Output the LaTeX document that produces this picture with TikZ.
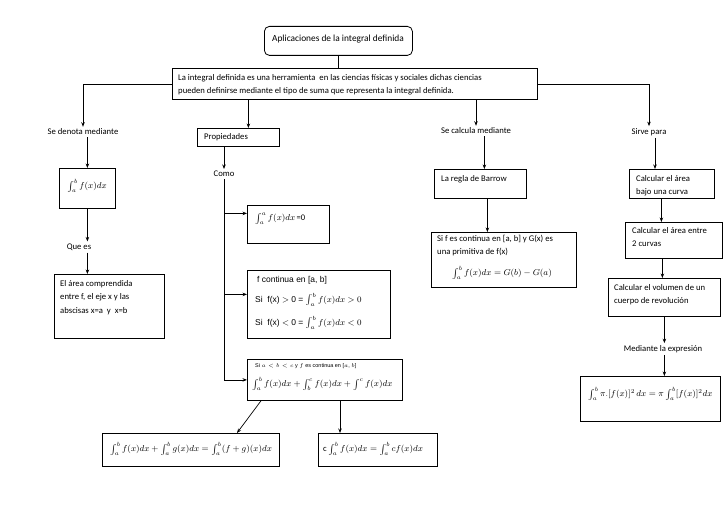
\RequirePackage{fix-cm}
\documentclass[tikz,border=0pt]{standalone}
\usepackage{fontspec}
\setmainfont{Carlito}
\newfontfamily\arialf{Liberation Sans}
\usetikzlibrary{arrows.meta}
\begin{document}
\begin{tikzpicture}[x=1bp,y=-1bp,
  box/.style={draw,line width=0.8pt,inner sep=0pt,anchor=north west},
  txt/.style={inner sep=0pt,font=\fontsize{8.7}{13}\selectfont,align=left},
  mth/.style={inner sep=0pt,font=\fontsize{8.6}{11}\selectfont},
  lbl/.style={inner sep=2pt,font=\fontsize{8.7}{10}\selectfont},
  ar/.style={txt,font=\arialf\fontsize{8.5}{10}\selectfont},
  arr/.style={-{Stealth[length=4.5pt,width=3.5pt]},line width=0.7pt},
  ln/.style={line width=0.7pt}]
\useasboundingbox (0,0) rectangle (728,515);

% boxes
\node[box,rounded corners=5pt,minimum width=148bp,minimum height=29bp] (title) at (264,26) {};
\node[box,minimum width=365bp,minimum height=31bp] (main) at (172,68) {};
\node[box,minimum width=56bp,minimum height=40bp] (denbox) at (59,168) {};
\node[box,minimum width=110bp,minimum height=64bp] (areabox) at (54,274) {};
\node[box,minimum width=82bp,minimum height=18bp] (prop) at (197,128) {};
\node[box,minimum width=82bp,minimum height=38bp] (p1) at (247,205) {};
\node[box,minimum width=143bp,minimum height=68bp] (p2) at (247,270) {};
\node[box,minimum width=155bp,minimum height=41bp] (p3) at (247,359) {};
\node[box,minimum width=177bp,minimum height=33bp] (p4) at (102,433) {};
\node[box,minimum width=119bp,minimum height=33bp] (p5) at (318,433) {};
\node[box,minimum width=92bp,minimum height=29bp] (bar1) at (434,169) {};
\node[box,minimum width=145bp,minimum height=55bp] (bar2) at (431,232) {};
\node[box,minimum width=85bp,minimum height=29bp] (sA) at (629,169) {};
\node[box,minimum width=97bp,minimum height=36bp] (sB) at (625,222) {};
\node[box,minimum width=112bp,minimum height=38bp] (sC) at (608,278) {};
\node[box,minimum width=140bp,minimum height=45bp] (sD) at (580,376) {};

% free labels
\node[lbl] (sedenota) at (83,132) {Se denota mediante};
\node[lbl] (quees) at (79,247) {Que es};
\node[lbl] (como) at (224,174) {Como};
\node[lbl] (secalcula) at (476,131) {Se calcula mediante};
\node[lbl] (sirve) at (649,132) {Sirve para};
\node[lbl] (mediante) at (663,349) {Mediante la expresión};

% box texts
\node[txt,font=\fontsize{9.4}{11}\selectfont] (ttitle) at (338,39) {Aplicaciones de la integral definida};
\node[txt,anchor=west] (tmain) at (178,84.5) {La integral definida es una herramienta\ \ en las ciencias físicas y sociales dichas ciencias\\pueden definirse mediante el tipo de suma que representa la integral definida.};
\node[mth] (tden) at (87,186) {$\int_a^b f(x)dx$};
\node[txt,anchor=west,font=\fontsize{8.7}{13.5}\selectfont] (tarea) at (60,297.5) {El área comprendida\\entre f, el eje x y las\\abscisas x=a\ \ y\ \ x=b};
\node[txt,anchor=west] (tprop) at (204,137) {Propiedades};
\node[mth,anchor=west] (tp1) at (255,219) {$\int_a^a f(x)dx$\,=0};
\node[ar,anchor=west] (tp2a) at (257,280) {f continua en [a, b]};
\node[ar,anchor=west] (tp2b) at (255,300) {Si\ \ f(x) $>$ 0 = $\int_a^b f(x)dx > 0$};
\node[ar,anchor=west] (tp2c) at (255,323) {Si\ \ f(x) $<$ 0 = $\int_a^b f(x)dx < 0$};
\node[txt,anchor=west,font=\arialf\fontsize{5.5}{7}\selectfont] (tp3a) at (255,366) {Si $a<b<c$ y $f$ es continua en [$a$, $b$]};
\node[mth,anchor=west] (tp3b) at (252,384) {$\int_a^b f(x)dx + \int_b^c f(x)dx + \int^c f(x)dx$};
\node[mth,anchor=west] (tp4) at (110,449) {$\int_a^b f(x)dx + \int_a^b g(x)dx = \int_a^b (f+g)(x)dx$};
\node[mth,anchor=west] (tp5) at (323,449) {c\,$\int_a^b f(x)dx = \int_a^b cf(x)dx$};
\node[txt,anchor=west] (tbar1) at (441,179) {La regla de Barrow};
\node[txt,anchor=west] (tbar2) at (437,245.5) {Si f es continua en [a, b] y G(x) es\\una primitiva de f(x)};
\node[mth] (tbar3) at (502,273) {$\int_a^b f(x)dx = G(b) - G(a)$};
\node[txt,anchor=west] (tsA) at (636,185.5) {Calcular el área\\bajo una curva};
\node[txt,anchor=west] (tsB) at (632,237) {Calcular el área entre\\2 curvas};
\node[txt,anchor=west] (tsC) at (614,295) {Calcular el volumen de un\\cuerpo de revolución};
\node[mth,anchor=west] (tsD) at (588,394) {$\int_a^b \pi.[f(x)]^2\,dx = \pi\int_a^b [f(x)]^2dx$};

% connectors
\draw[ln] (title.south) -- (title.south |- main.north);
\draw[arr] (main.west) -| (sedenota.north);
\draw[arr] (main.east) -| (sirve.north);
\draw[arr] ([xshift=10bp]prop.north |- main.south) -- ([xshift=10bp]prop.north);
\draw[arr] (secalcula.north |- main.south) -- (secalcula.north);

\draw[arr] (denbox.north |- sedenota.south) -- (denbox.north);
\draw[arr] (denbox.south) -- (denbox.south |- quees.north);
\draw[arr] (denbox.south |- quees.south) -- (denbox.south |- areabox.north);

\draw[arr] (como.north |- prop.south) -- (como.north);
\coordinate (p1a) at ([yshift=11bp]p1.west);
\coordinate (p2a) at ([yshift=10bp]p2.west);
\draw[ln] (como.south) -- (como.south |- p3.west);
\draw[arr] (como.south |- p1a) -- (p1a);
\draw[arr] (como.south |- p2a) -- (p2a);
\draw[arr] (como.south |- p3.west) -- (p3.west);
\draw[arr] ([xshift=14bp]p3.south west) -- ([xshift=135bp]p4.north west);
\draw[arr] ([xshift=22bp]p5.north west |- p3.south) -- ([xshift=22bp]p5.north west);

\draw[arr] ([xshift=4bp]bar1.north |- secalcula.south) -- ([xshift=4bp]bar1.north);
\draw[arr] ([xshift=7bp]bar1.south) -- ([xshift=7bp]bar1.south |- bar2.north);

\draw[arr] ([xshift=6bp]sirve.south) -- ([xshift=6bp]sirve.south |- sA.north);
\draw[arr] ([xshift=-10.5bp]sA.south) -- ([xshift=-10.5bp]sA.south |- sB.north);
\draw[arr] ([xshift=-11.5bp]sB.south) -- ([xshift=-11.5bp]sB.south |- sC.north);
\draw[arr] (sC.south) -- (sC.south |- mediante.north);
\draw[arr] (sC.south |- mediante.south) -- (sC.south |- sD.north);
\end{tikzpicture}
\end{document}
